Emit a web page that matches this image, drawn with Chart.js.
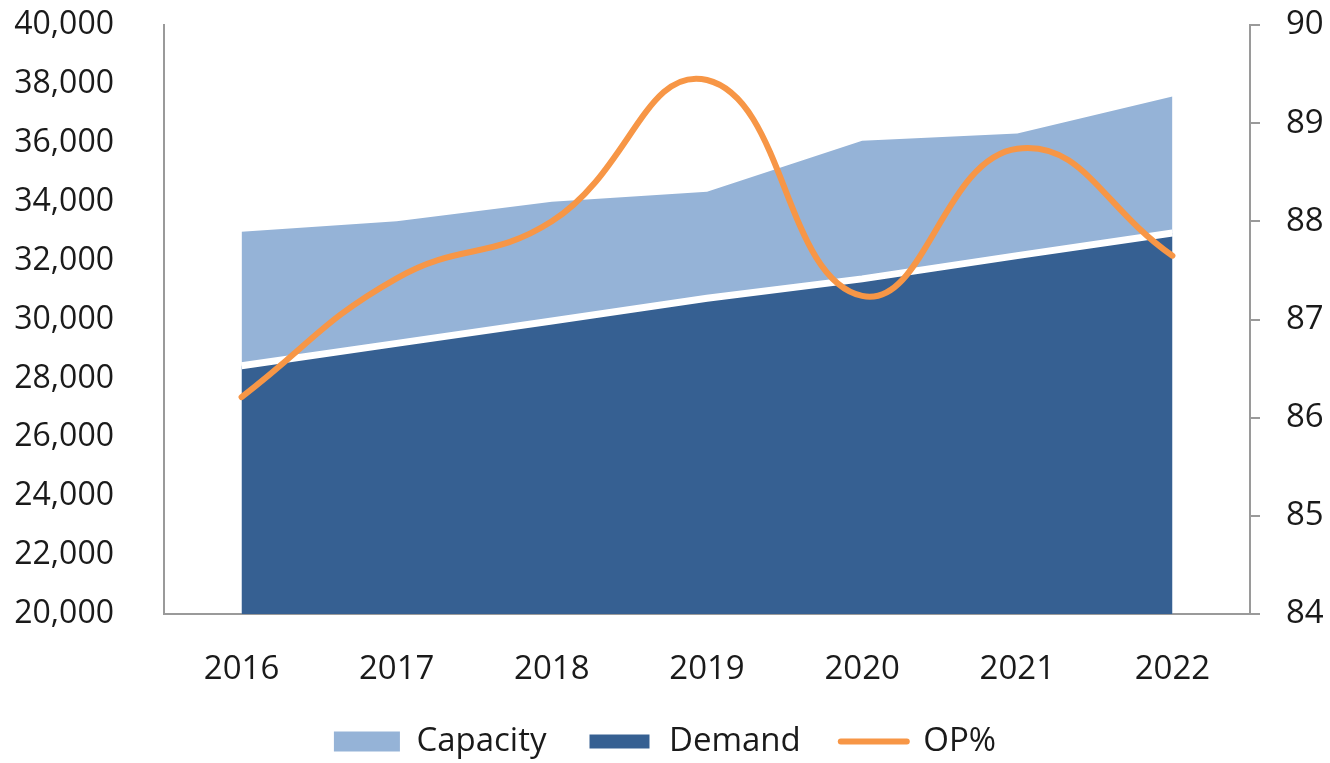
<!DOCTYPE html>
<html>
<head>
<meta charset="utf-8">
<script src="https://cdn.jsdelivr.net/npm/chart.js"></script>
<style>
  html, body { margin: 0; padding: 0; background: #fff; }
  canvas { display: block; }
</style>
</head>
<body>
<canvas id="myChart" width="1330" height="763"></canvas>
<script>
const years = ["2016", "2017", "2018", "2019", "2020", "2021", "2022"];
const capacity = [32980, 33340, 34000, 34340, 36070, 36320, 37570];
const demand = [28430, 29190, 29950, 30720, 31380, 32170, 32940];
const opPercent = [86.21, 87.42, 88.0, 89.44, 87.24, 88.74, 87.65];
const leftTicks = [20000, 40000, 2000];   // min, max, step
const rightTicks = [84, 90, 1];

const capColor = "#95B3D7";
const demColor = "#366092";
const opColor = "#F79646";
const axisColor = "#9a9a9a";

Chart.defaults.font.family = "'Open Sans', 'Noto Sans', sans-serif";
Chart.defaults.color = "#1a1a1a";

const ctx = document.getElementById("myChart");

// y axes: keep the fixed widths and drop the tick padding that chart.js adds above/below
function fixAxis(width) {
    return (scale) => {
        scale.width = width;
        scale.paddingTop = 0;
        scale.paddingBottom = 0;
    };
}

const chart = new Chart(ctx, {
    type: "line",
    data: {
        labels: years,
        datasets: [
            {
                label: "Capacity",
                data: capacity,
                yAxisID: "y",
                backgroundColor: capColor,
                borderColor: capColor,
                borderWidth: 0,
                fill: "start",
                pointRadius: 0,
                tension: 0,
                order: 3
            },
            {
                label: "Demand",
                data: demand,
                yAxisID: "y",
                backgroundColor: demColor,
                borderColor: "#ffffff",
                borderWidth: 7,
                fill: "start",
                pointRadius: 0,
                tension: 0,
                order: 2
            },
            {
                label: "OP%",
                data: opPercent,
                yAxisID: "y1",
                borderColor: opColor,
                backgroundColor: opColor,
                borderWidth: 6,
                borderCapStyle: "round",
                fill: false,
                pointRadius: 0,
                tension: 0.45,
                order: 1
            }
        ]
    },
    options: {
        responsive: false,
        animation: false,
        layout: { padding: { top: 25, left: 0, right: 0, bottom: 0 } },
        plugins: {
            tooltip: { enabled: false },
            legend: {
                position: "bottom",
                maxHeight: 78,
                labels: {
                    usePointStyle: true,
                    pointStyleWidth: 66,
                    boxHeight: 20,
                    padding: 40,
                    font: { size: 33 },
                    color: "#1a1a1a",
                    generateLabels: (c) => [
                        { text: "Capacity", fillStyle: capColor, strokeStyle: capColor, lineWidth: 0, pointStyle: "rect", datasetIndex: 0, fontColor: "#1a1a1a" },
                        { text: "Demand", fillStyle: demColor, strokeStyle: "#ffffff", lineWidth: 6, pointStyle: "rect", datasetIndex: 1, fontColor: "#1a1a1a" },
                        { text: "OP%", fillStyle: opColor, strokeStyle: opColor, lineWidth: 6, lineCap: "round", pointStyle: "line", datasetIndex: 2, fontColor: "#1a1a1a" }
                    ]
                }
            }
        },
        scales: {
            x: {
                offset: true,
                grid: { display: false },
                border: { display: true, color: axisColor, width: 2 },
                ticks: { padding: 28, font: { size: 33 } },
                afterFit: (scale) => { scale.height = 71; }
            },
            y: {
                position: "left",
                min: leftTicks[0],
                max: leftTicks[1],
                grid: { display: false },
                border: { display: true, color: axisColor, width: 2 },
                ticks: {
                    stepSize: leftTicks[2],
                    padding: 42,
                    font: { size: 32 },
                    callback: (v) => v.toLocaleString("en-US")
                },
                afterFit: fixAxis(164)
            },
            y1: {
                position: "right",
                min: rightTicks[0],
                max: rightTicks[1],
                grid: {
                    display: true,
                    drawOnChartArea: false,
                    drawTicks: true,
                    tickLength: 10,
                    color: axisColor,
                    lineWidth: 2
                },
                border: { display: true, color: axisColor, width: 2 },
                ticks: {
                    stepSize: rightTicks[2],
                    padding: 26,
                    font: { size: 33 }
                },
                afterFit: fixAxis(80)
            }
        }
    }
});
</script>
</body>
</html>
